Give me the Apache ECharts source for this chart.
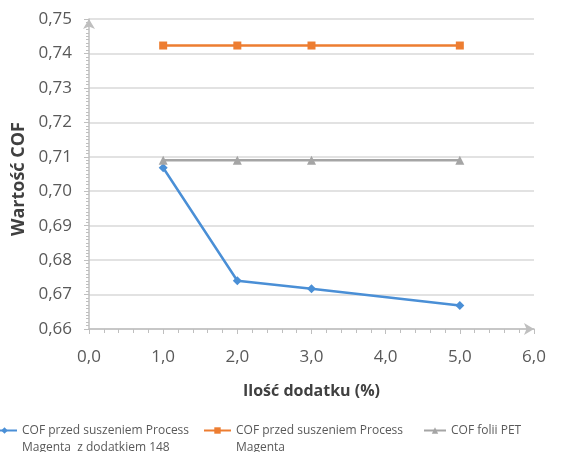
<!DOCTYPE html>
<html><head><meta charset="utf-8">
<script src="https://cdn.jsdelivr.net/npm/echarts@6/dist/echarts.min.js"></script>
<style>html,body{margin:0;padding:0;background:#fff}#c{width:576px;height:452px}</style>
</head><body><div id="c"></div>
<script>
const xValues = [1, 2, 3, 5];
const blueValues = [0.7068, 0.674, 0.6717, 0.6668];
const orangeValues = [0.7423, 0.7423, 0.7423, 0.7423];
const grayValues = [0.709, 0.709, 0.709, 0.709];
const seriesNames = [
  'COF przed suszeniem Process\nMagenta  z dodatkiem 148',
  'COF przed suszeniem Process\nMagenta',
  'COF folii PET'
];
const xTitle = 'Ilość dodatku (%)';
const yTitle = 'Wartość COF';

const pair = v => xValues.map((x, i) => [x, v[i]]);
const chart = echarts.init(document.getElementById('c'));
const legendText = {color: '#595959', fontSize: 12, fontFamily: 'Open Sans', lineHeight: 17};
const twoLine = name => '\n' + name;
chart.setOption({
  animation: false,
  grid: {left: 89, right: 42, top: 19, bottom: 123},
  xAxis: {
    type: 'value', min: 0, max: 6, interval: 1,
    name: xTitle, nameLocation: 'middle', nameGap: 54,
    nameTextStyle: {fontWeight: 'bold', fontSize: 16, color: '#404040', fontFamily: 'Open Sans'},
    axisLine: {show: true, lineStyle: {color: '#bfbfbf', width: 1.5}, symbol: ['none', 'arrow'], symbolSize: [9, 10]},
    axisTick: {show: true, length: 5, lineStyle: {color: '#bfbfbf'}},
    minorTick: {show: true, splitNumber: 5, length: 4, lineStyle: {color: '#bfbfbf'}},
    splitLine: {show: false},
    axisLabel: {color: '#595959', fontSize: 17, fontFamily: 'Open Sans', margin: 20,
      formatter: v => v.toFixed(1).replace('.', ',')}
  },
  yAxis: {
    type: 'value', min: 0.66, max: 0.75, interval: 0.01,
    name: yTitle, nameLocation: 'middle', nameGap: 60, nameRotate: 90,
    nameTextStyle: {fontWeight: 'bold', fontSize: 18, color: '#404040', fontFamily: 'Open Sans', padding: [0, 10, 0, 0]},
    axisLine: {show: true, lineStyle: {color: '#bfbfbf', width: 1.5}, symbol: ['none', 'arrow'], symbolSize: [9, 10]},
    axisTick: {show: true, length: 5, lineStyle: {color: '#bfbfbf'}},
    minorTick: {show: true, splitNumber: 10, length: 3, lineStyle: {color: '#bfbfbf'}},
    splitLine: {show: true, lineStyle: {color: '#d9d9d9', width: 1.5}},
    axisLabel: {color: '#595959', fontSize: 17, fontFamily: 'Open Sans', margin: 17,
      formatter: v => v.toFixed(2).replace('.', ',')}
  },
  legend: [
    {data: [seriesNames[0]], left: -14, top: 400, itemWidth: 25, itemHeight: 8, textStyle: legendText, formatter: twoLine},
    {data: [seriesNames[1]], left: 198, top: 400, itemWidth: 27, itemHeight: 8, textStyle: legendText, formatter: twoLine},
    {data: [seriesNames[2]], left: 418, top: 417, itemWidth: 22, itemHeight: 8, textStyle: legendText}
  ],
  series: [
    {name: seriesNames[0], type: 'line', data: pair(blueValues), symbol: 'diamond', symbolSize: 9,
     lineStyle: {color: '#4a8fd6', width: 2.5}, itemStyle: {color: '#4a8fd6'}},
    {name: seriesNames[1], type: 'line', data: pair(orangeValues), symbol: 'rect', symbolSize: 8,
     lineStyle: {color: '#ed7d31', width: 2.5}, itemStyle: {color: '#ed7d31'}},
    {name: seriesNames[2], type: 'line', data: pair(grayValues), symbol: 'triangle', symbolSize: 9,
     lineStyle: {color: '#a5a5a5', width: 2.5}, itemStyle: {color: '#a5a5a5'}}
  ]
});
</script></body></html>
